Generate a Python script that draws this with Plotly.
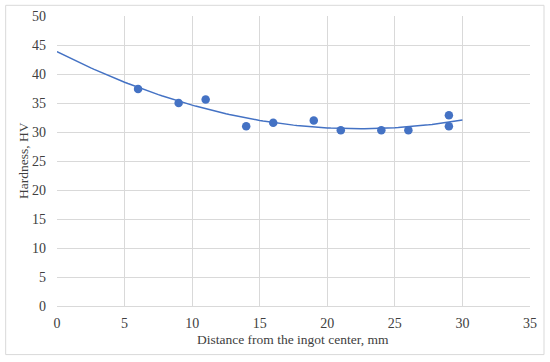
import numpy as np
import plotly.graph_objects as go

distance = [6, 9, 11, 14, 16, 19, 21, 24, 26, 29, 29]
hardness = [37.4, 35.0, 35.6, 31.0, 31.6, 32.0, 30.3, 30.3, 30.3, 32.9, 31.0]

x_title = "Distance from the ingot center, mm"
y_title = "Hardness, HV"

# Excel-style 2nd order polynomial trendline from 0 to 30
coef = np.polyfit(distance, hardness, 2)
xt = np.linspace(0, 30, 121)
yt = np.polyval(coef, xt)

blue = "#4472C4"
grid = "#D9D9D9"
font = "Liberation Serif, Times New Roman, serif"
tc = "#404040"

fig = go.Figure()
fig.add_trace(go.Scatter(x=xt, y=yt, mode="lines", line=dict(color=blue, width=1.5),
                         hoverinfo="skip", showlegend=False))
fig.add_trace(go.Scatter(x=distance, y=hardness, mode="markers",
                         marker=dict(color=blue, size=8.5), showlegend=False))

fig.update_layout(
    width=550, height=362,
    margin=dict(l=57, r=20, t=16, b=56),
    paper_bgcolor="white", plot_bgcolor="white",
    font=dict(family=font, size=14, color=tc),
    xaxis=dict(range=[0, 35], dtick=5, showgrid=True, gridcolor=grid, gridwidth=1,
               zeroline=False, showline=True, linecolor=grid, ticks="",
               automargin=False,
               tickfont=dict(family=font, size=14, color=tc),
               ticklabelstandoff=4),
    yaxis=dict(range=[0, 50], dtick=5, showgrid=True, gridcolor=grid, gridwidth=1,
               zeroline=False, showline=False, ticks="",
               automargin=False,
               tickfont=dict(family=font, size=14, color=tc),
               ticklabelstandoff=10),
    annotations=[
        dict(text=x_title, xref="paper", yref="paper", x=0.499, y=-0.115,
             xanchor="center", yanchor="middle", showarrow=False,
             font=dict(family=font, size=13.5, color=tc)),
        dict(text=y_title, xref="paper", yref="paper", x=-0.0718, y=0.5,
             xanchor="center", yanchor="middle", showarrow=False, textangle=-90,
             font=dict(family=font, size=13.5, color=tc)),
    ],
    shapes=[dict(type="rect", xref="paper", yref="paper",
                 x0=-0.1085, x1=1.0296, y0=-0.1676, y1=1.0368,
                 line=dict(color=grid, width=1), layer="below")],
)

fig.write_html("out.html", config={"displayModeBar": False},
               post_script="document.body.style.margin='0';document.body.style.overflow='hidden';")
